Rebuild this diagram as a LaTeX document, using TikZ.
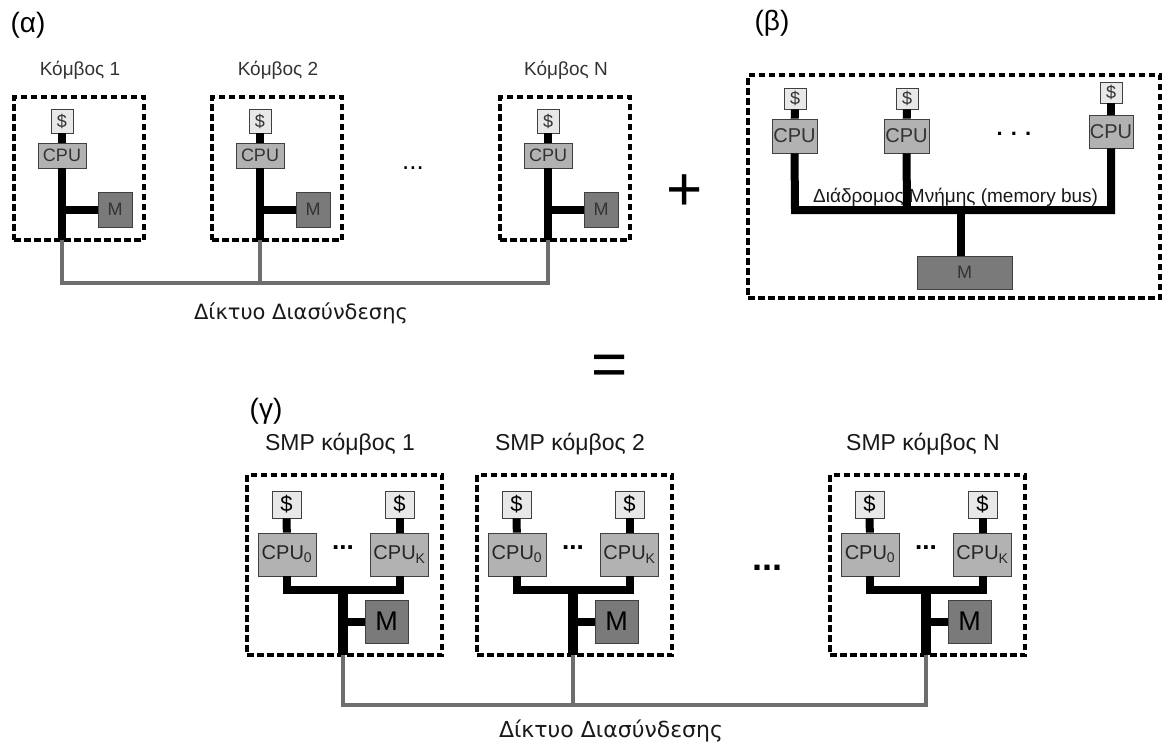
\documentclass[tikz,border=0pt]{standalone}
\usepackage{fontspec}
\setmainfont{Liberation Sans}
\newfontfamily\dvfont{DejaVu Sans}
\newcommand{\fs}[1]{\fontsize{#1}{#1}\selectfont}
\begin{document}
\begin{tikzpicture}[x=1pt,y=-1pt,
  nodebox/.style={draw=black, line width=3.6pt, dash pattern=on 6.5pt off 3.5pt, inner sep=0pt},
  cache/.style={draw=black!75, line width=0.8pt, fill=black!9, inner sep=0pt, text=black!80},
  cpu/.style={draw=black!75, line width=0.8pt, fill=black!30, inner sep=0pt, text=black!80},
  mem/.style={draw=black!75, line width=0.8pt, fill=black!52, inner sep=0pt, text=black!80},
  bus/.style={line width=8pt, black},
  net/.style={line width=4pt, black!57},
  lab/.style={inner sep=0pt, text=black!80, font=\fs{19}},
  glab/.style={inner sep=0pt, text=black!90, font=\fs{23}},
  netlab/.style={inner sep=0pt, anchor=base, text=black!90},
  part/.style={inner sep=0pt, font=\fs{28}}
]
\useasboundingbox (0,0) rectangle (1162,745);

% ---------- (alpha) ----------
\node[part] (pa) at (28,25) {(α)};
\foreach \i/\ox in {1/0,2/198,N/486}{
  \begin{scope}[xshift=\ox pt]
    \node[lab] (aL\i) at (80,70) {Κόμβος \i};
    \node[nodebox, minimum width=130pt, minimum height=143pt] (aB\i) at (79,168.5) {};
    \node[cache, minimum width=22pt, minimum height=24pt, font=\fs{18}] (aS\i) at (62,121) {\$};
    \node[cpu, minimum width=48pt, minimum height=25pt, font=\fs{18}] (aC\i) at (62,155.5) {CPU};
    \node[mem, minimum width=34pt, minimum height=35pt, font=\fs{18}] (aM\i) at (115,209.5) {M};
    \coordinate (aD\i) at (62,240);
    \coordinate (aN\i) at (62,283);
  \end{scope}
}
\draw[net] (aD1) -- (aN1) -- (aNN) -- (aDN);
\draw[net] (aD2) -- (aN2);
\foreach \i in {1,2,N}{
  \draw[bus] (aS\i) -- (aC\i);
  \draw[bus] (aC\i) -- (aD\i);
  \draw[bus] (aM\i.west) -- (aM\i.west -| aD\i);
}
\node[inner sep=0pt, font=\fs{26}] (aDots) at (413,168) {...};
\node[netlab, font=\dvfont\fs{21}] (aNet) at (301,319) {Δίκτυο Διασύνδεσης};

\node[inner sep=0pt, font=\fs{62}] (plus) at (685,193) {+};

% ---------- (beta) ----------
\node[part] (pb) at (772,23) {(β)};
\node[nodebox, minimum width=412pt, minimum height=223pt] (bB) at (954,186.5) {};
\node[cache, minimum width=22pt, minimum height=21pt, font=\fs{18}] (bS1) at (795,98.5) {\$};
\node[cache, minimum width=22pt, minimum height=21pt, font=\fs{18}] (bS2) at (907,98.5) {\$};
\node[cache, minimum width=22pt, minimum height=21pt, font=\fs{18}] (bS3) at (1111,92.5) {\$};
\node[cpu, minimum width=45pt, minimum height=34pt, font=\fs{20}] (bC1) at (794.5,136) {CPU};
\node[cpu, minimum width=45pt, minimum height=34pt, font=\fs{20}] (bC2) at (906.5,136) {CPU};
\node[cpu, minimum width=44pt, minimum height=33pt, font=\fs{20}] (bC3) at (1111,131.5) {CPU};
\node[mem, minimum width=95pt, minimum height=33pt, font=\fs{18}] (bM) at (964.5,272.5) {M};
\coordinate (bL) at (795,210);
\coordinate (bR) at (1111,210);
\coordinate (bMid) at (907,210);
\coordinate (bJ) at (961,210);
\foreach \i in {1,2,3}{ \draw[bus] (bS\i) -- (bC\i); }
\draw[bus] (bC1.south) -- (bL) -- (bR) -- (bC3.south);
\draw[bus] (bC2.south) -- (bMid);
\draw[bus] (bJ) -- (bJ |- bM.north);
\node[inner sep=0pt, anchor=base west, font=\fs{19}, text=black!90] (bLab) at (813,202) {Διάδρομος Μνήμης (memory bus)};
\node[inner sep=0pt, font=\bfseries\fs{22}] (bDots) at (1014,134) {. . .};

\node[inner sep=0pt, font=\fs{62}] (eq) at (610,370) {=};

% ---------- (gamma) ----------
\node[part] (pg) at (266,411) {(γ)};
\foreach \i/\ox in {1/0,2/230,N/583}{
  \begin{scope}[xshift=\ox pt]
    \node[glab] (gL\i) at (340,444) {SMP κόμβος \i};
    \node[nodebox, minimum width=195pt, minimum height=180pt] (gB\i) at (344.5,565) {};
    \node[cache, minimum width=29pt, minimum height=27pt, font=\fs{22}, text=black] (gSa\i) at (286.5,504.5) {\$};
    \node[cache, minimum width=29pt, minimum height=27pt, font=\fs{22}, text=black] (gSb\i) at (399.5,504.5) {\$};
    \node[cpu, minimum width=58pt, minimum height=43pt, font=\fs{20}, text=black!85] (gCa\i) at (287,554.5) {CPU\textsubscript{0}};
    \node[cpu, minimum width=58pt, minimum height=43pt, font=\fs{20}, text=black!85] (gCb\i) at (399.5,554.5) {CPU\textsubscript{K}};
    \node[inner sep=0pt, font=\bfseries\fs{26}] (gDots\i) at (343,548) {...};
    \node[mem, minimum width=43pt, minimum height=43pt, font=\fs{27}, text=black] (gM\i) at (386.5,621.5) {M};
    \coordinate (gJa\i) at (287,590);
    \coordinate (gJb\i) at (399.5,590);
    \coordinate (gJ\i) at (343,590);
    \coordinate (gD\i) at (343,655);
    \coordinate (gN\i) at (343,705);
  \end{scope}
}
\draw[net] (gD1) -- (gN1) -- (gNN) -- (gDN);
\draw[net] (gD2) -- (gN2);
\foreach \i in {1,2,N}{
  \draw[bus] (gSa\i) -- (gCa\i);
  \draw[bus] (gSb\i) -- (gCb\i);
  \draw[bus] (gCa\i.south) -- (gJa\i) -- (gJb\i) -- (gCb\i.south);
  \draw[bus, line width=10pt] (gJ\i) -- (gD\i);
  \draw[bus] (gM\i.west) -- (gM\i.west -| gJ\i);
}
\node[inner sep=0pt, font=\bfseries\fs{36}] (gDots) at (767,568) {...};
\node[netlab, font=\dvfont\fs{22}] (gNet) at (611,737) {Δίκτυο Διασύνδεσης};
\end{tikzpicture}
\end{document}
